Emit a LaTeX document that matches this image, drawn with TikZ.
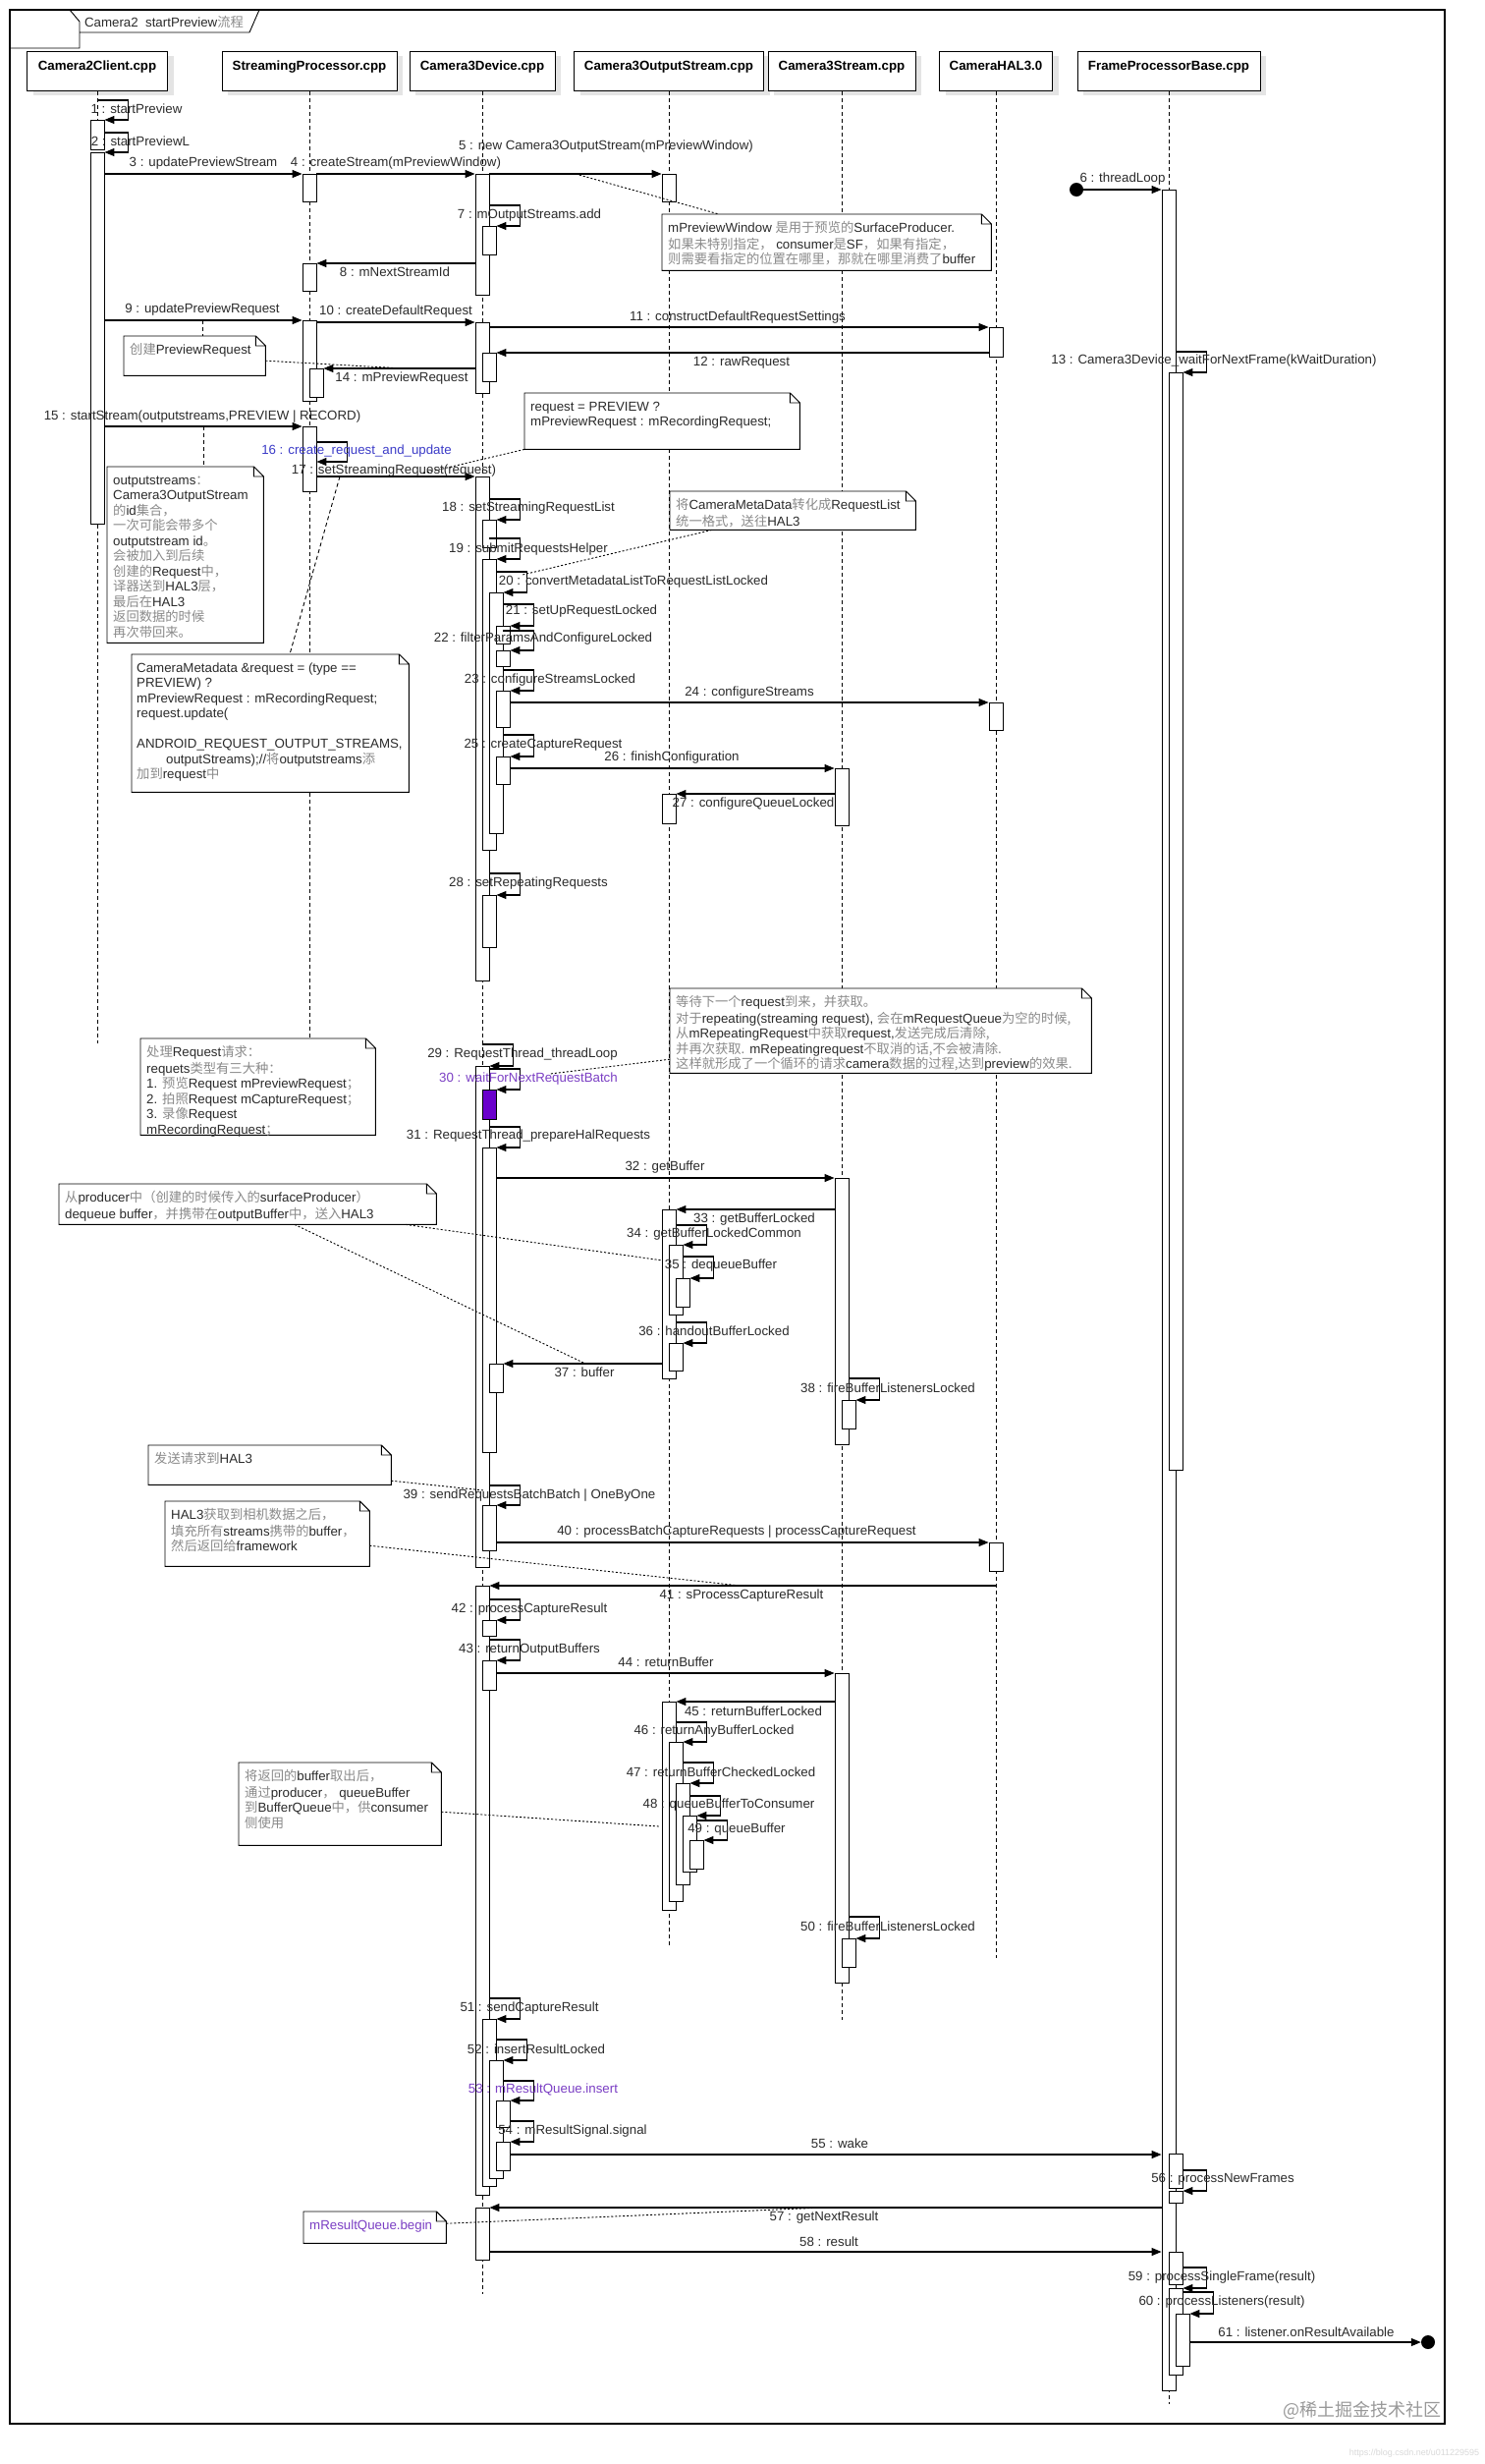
\documentclass[tikz,border=0pt]{standalone}
\usepackage{fontspec}
\setmainfont{Liberation Sans}
\newfontfamily\cjk{Noto Sans CJK SC}
\usetikzlibrary{arrows.meta,shadows}
\definecolor{sdgray}{HTML}{8A8A8A}
\definecolor{sdtext}{HTML}{2B2B2B}
\definecolor{sdblue}{HTML}{3C3CC8}
\definecolor{sdpurple}{HTML}{7B3FC4}
\definecolor{sdbar}{HTML}{6A00CC}
\definecolor{sdshadow}{HTML}{E4E4E4}
\newcommand\zh[1]{{\cjk\color{sdgray}#1}}
\newcommand\actbar[5][]{\node[act,#1,minimum height={#5pt-#4pt}] (#2) at (#3,#4) {};}
\newcommand\dogear[1]{\draw[line width=0.9pt] (#1.south west) -- (#1.north west)
  -- ([xshift=-10pt]#1.north east) -- ([yshift=-10pt]#1.north east) -- (#1.south east) -- cycle
  ([xshift=-10pt]#1.north east) |- ([yshift=-10pt]#1.north east);}

\begin{document}
\begin{tikzpicture}[x=1pt, y=-1pt,
  font=\fontsize{13.3}{15.5}\selectfont,
  head/.style={draw, line width=0.9pt, fill=white, minimum height=40pt, text depth=12pt,
               font=\fontsize{13.3}{15.5}\selectfont\bfseries, anchor=north,
               drop shadow={shadow xshift=6pt, shadow yshift=-5pt, fill=sdshadow, opacity=1}},
  life/.style={line width=0.9pt, dash pattern=on 4pt off 3pt},
  act/.style={draw, line width=0.9pt, fill=white, minimum width=14pt, inner sep=0pt, anchor=north},
  msg/.style={line width=1.1pt, -{Triangle[length=10pt, width=8pt]}},
  lbl/.style={inner sep=0pt, text=sdtext},
  notebox/.style={fill=white, inner sep=0pt, anchor=north west},
  notetxt/.style={inner sep=0pt, anchor=north west, align=left, text=sdtext},
  link/.style={line width=0.9pt, dash pattern=on 2pt off 2pt},
  linkd/.style={line width=0.9pt, dash pattern=on 4pt off 3pt},
  dot/.style={circle, fill, inner sep=0pt, minimum size=14pt}]

\fill[white] (0,0) rectangle (1512,2508);
\useasboundingbox (0,0) rectangle (1512,2508);

% ---- frame ------------------------------------------------------------
\draw[line width=1.1pt] (10,10) rectangle (1471,2467);
\draw[line width=0.9pt] (10,49) -- (81,49) -- (81,22) -- (71,10) (81,33) -- (254,33) -- (264,10);
\node[lbl] (title) at (167,22) {Camera2\ \ startPreview\zh{流程}};

% ---- lifelines --------------------------------------------------------
\node[head, minimum width=143pt] (hC2) at (99,52) {Camera2Client.cpp};
\node[head, minimum width=178pt] (hSP) at (315,52) {StreamingProcessor.cpp};
\node[head, minimum width=148pt] (hC3D) at (491,52) {Camera3Device.cpp};
\node[head, minimum width=193pt] (hOS) at (681,52) {Camera3OutputStream.cpp};
\node[head, minimum width=150pt] (hCS) at (857,52) {Camera3Stream.cpp};
\node[head, minimum width=115pt] (hHAL) at (1014,52) {CameraHAL3.0};
\node[head, minimum width=186pt] (hFP) at (1190,52) {FrameProcessorBase.cpp};
\foreach \h/\e in {hC2/1062, hSP/1057, hC3D/2335, hOS/1982, hCS/2056, hHAL/1993, hFP/2447}
  \draw[life] (\h.south) -- (\h.south |- 0,\e);

% ---- notes ------------------------------------------------------------
\node[notebox, minimum width=335pt, minimum height=57pt] (n5) at (674,218) {};
\dogear{n5}
\node[notetxt] (n5t) at ([shift={(6,7)}]n5.north west)
  {\strut mPreviewWindow \zh{是用于预览的}SurfaceProducer.\\
   \zh{如果未特别指定，} consumer\zh{是}SF\zh{，如果有指定，}\\
   \zh{则需要看指定的位置在哪里，那就在哪里消费了}buffer};

\node[notebox, minimum width=144pt, minimum height=40pt] (nPR) at (126,342) {};
\dogear{nPR}
\node[notetxt] (nPRt) at ([shift={(6,7)}]nPR.north west) {\strut\zh{创建}PreviewRequest};

\node[notebox, minimum width=159pt, minimum height=179pt] (nOS) at (109,475) {};
\dogear{nOS}
\node[notetxt] (nOSt) at ([shift={(6,7)}]nOS.north west)
  {\strut outputstreams\zh{：}\\ Camera3OutputStream\\ \zh{的}id\zh{集合，}\\
   \zh{一次可能会带多个}\\ outputstream id\zh{。}\\ \zh{会被加入到后续}\\
   \zh{创建的}Request\zh{中，}\\ \zh{译器送到}HAL3\zh{层，}\\ \zh{最后在}HAL3\\
   \zh{返回数据的时候}\\ \zh{再次带回来。}};

\node[notebox, minimum width=280pt, minimum height=57pt] (nRQ) at (534,400) {};
\dogear{nRQ}
\node[notetxt] (nRQt) at ([shift={(6,7)}]nRQ.north west)
  {\strut request = PREVIEW ?\\ mPreviewRequest : mRecordingRequest;};

\node[notebox, minimum width=250pt, minimum height=39pt] (nML) at (682,500) {};
\dogear{nML}
\node[notetxt] (nMLt) at ([shift={(6,7)}]nML.north west)
  {\strut\zh{将}CameraMetaData\zh{转化成}RequestList\\ \zh{统一格式，送往}HAL3};

\node[notebox, minimum width=282pt, minimum height=140pt] (nCM) at (134,666) {};
\dogear{nCM}
\node[notetxt] (nCMt) at ([shift={(5,7)}]nCM.north west)
  {\strut CameraMetadata \&request = (type ==\\ PREVIEW) ?\\
   mPreviewRequest : mRecordingRequest;\\ request.update(\\[15.5pt]
   ANDROID\_REQUEST\_OUTPUT\_STREAMS,\\
   \hspace*{30pt}outputStreams);//\zh{将}outputstreams\zh{添}\\ \zh{加到}request\zh{中}};

\node[notebox, minimum width=429pt, minimum height=86pt] (nWT) at (682,1006) {};
\dogear{nWT}
\node[notetxt] (nWTt) at ([shift={(6,7)}]nWT.north west)
  {\strut\zh{等待下一个}request\zh{到来，并获取。}\\
   \zh{对于}repeating(streaming request), \zh{会在}mRequestQueue\zh{为空的时候,}\\
   \zh{从}mRepeatingRequest\zh{中获取}request,\zh{发送完成后清除,}\\
   \zh{并再次获取.} mRepeatingrequest\zh{不取消的话,不会被清除.}\\
   \zh{这样就形成了一个循环的请求}camera\zh{数据的过程,达到}preview\zh{的效果.}};

\node[notebox, minimum width=239pt, minimum height=98pt] (nPQ) at (143,1057) {};
\dogear{nPQ}
\node[notetxt] (nPQt) at ([shift={(6,7)}]nPQ.north west)
  {\strut\zh{处理}Request\zh{请求：}\\ requets\zh{类型有三大种：}\\
   1. \zh{预览}Request mPreviewRequest\zh{；}\\ 2. \zh{拍照}Request mCaptureRequest\zh{；}\\
   3. \zh{录像}Request\\ mRecordingRequest\zh{；}};

\node[notebox, minimum width=384pt, minimum height=41pt] (nDQ) at (60,1205) {};
\dogear{nDQ}
\node[notetxt] (nDQt) at ([shift={(6,7)}]nDQ.north west)
  {\strut\zh{从}producer\zh{中（创建的时候传入的}surfaceProducer\zh{）}\\
   dequeue buffer\zh{，并携带在}outputBuffer\zh{中，送入}HAL3};

\node[notebox, minimum width=247pt, minimum height=40pt] (nSR) at (151,1471) {};
\dogear{nSR}
\node[notetxt] (nSRt) at ([shift={(6,7)}]nSR.north west) {\strut\zh{发送请求到}HAL3};

\node[notebox, minimum width=208pt, minimum height=66pt] (nCB) at (168,1528) {};
\dogear{nCB}
\node[notetxt] (nCBt) at ([shift={(6,7)}]nCB.north west)
  {\strut HAL3\zh{获取到相机数据之后，}\\ \zh{填充所有}streams\zh{携带的}buffer\zh{，}\\
   \zh{然后返回给}framework};

\node[notebox, minimum width=206pt, minimum height=84pt] (nQB) at (243,1794) {};
\dogear{nQB}
\node[notetxt] (nQBt) at ([shift={(6,7)}]nQB.north west)
  {\strut\zh{将返回的}buffer\zh{取出后，}\\ \zh{通过}producer\zh{，} queueBuffer\\
   \zh{到}BufferQueue\zh{中，供}consumer\\ \zh{侧使用}};

\node[notebox, minimum width=145pt, minimum height=32pt] (nRB) at (309,2251) {};
\dogear{nRB}
\node[notetxt, text=sdpurple] (nRBt) at ([shift={(6,7)}]nRB.north west) {\strut mResultQueue.begin};

% ---- activations --------------------------------------------------------
\actbar{a1}{99}{122}{152}
\actbar{a2}{99}{155}{533}
\actbar{a3}{315}{177}{205}
\actbar{a8}{315}{268}{296}
\actbar{a9}{315}{326}{408}
\actbar{a14}{322}{375}{404}
\actbar{a15}{315}{434}{500}
\actbar{a4}{491}{177}{300}
\actbar{a7}{498}{230}{259}
\actbar{a10}{491}{328}{400}
\actbar{a12}{498}{359}{388}
\actbar{a17}{491}{485}{998}
\actbar{a18}{498}{529}{557}
\actbar{a19}{498}{569}{865}
\actbar{a20}{505}{603}{848}
\actbar{a21}{512}{637}{655}
\actbar{a22}{512}{662}{678}
\actbar{a23}{512}{703}{740}
\actbar{a25}{512}{770}{798}
\actbar{a28}{498}{911}{964}
\actbar{a29}{491}{1085}{1595}
\actbar[fill=sdbar]{a30}{498}{1109}{1139}
\actbar{a31}{498}{1168}{1478}
\actbar{a37}{505}{1388}{1417}
\actbar{a39}{498}{1532}{1578}
\actbar{a41}{491}{1614}{2234}
\actbar{a42}{498}{1649}{1665}
\actbar{a43}{498}{1690}{1720}
\actbar{a51}{498}{2055}{2225}
\actbar{a52}{505}{2097}{2217}
\actbar{a53}{512}{2138}{2165}
\actbar{a54}{512}{2180}{2209}
\actbar{a57}{491}{2247}{2300}
\actbar{a5}{681}{177}{205}
\actbar{a27}{681}{808}{838}
\actbar{a33}{681}{1231}{1403}
\actbar{a34}{688}{1267}{1338}
\actbar{a35}{695}{1301}{1330}
\actbar{a36}{688}{1367}{1395}
\actbar{a45}{681}{1732}{1944}
\actbar{a46}{688}{1773}{1935}
\actbar{a47}{695}{1815}{1918}
\actbar{a48}{702}{1848}{1905}
\actbar{a49}{709}{1873}{1902}
\actbar{a26}{857}{782}{840}
\actbar{a32}{857}{1199}{1470}
\actbar{a38}{864}{1425}{1454}
\actbar{a44}{857}{1703}{2018}
\actbar{a50}{864}{1973}{2002}
\actbar{a11}{1014}{333}{363}
\actbar{a24}{1014}{715}{743}
\actbar{a40}{1014}{1570}{1599}
\actbar{a6}{1190}{193}{2433}
\actbar{a13}{1197}{379}{1496}
\actbar{a55}{1197}{2192}{2227}
\actbar{a56}{1197}{2230}{2242}
\actbar{a58}{1197}{2292}{2325}
\actbar{a59}{1197}{2329}{2417}
\actbar{a60}{1204}{2355}{2408}

% ---- messages -----------------------------------------------------------
\draw[msg] (hC2.south |- 0,102) -| ([xshift=24pt]a1.north east) -- (a1.north east);
\node[lbl] (l1) at (139,111) {1 : startPreview};
\draw[msg] (a1.east |- 0,135) -| ([xshift=24pt]a2.north east) -- (a2.north east);
\node[lbl] (l2) at (143,144) {2 : startPreviewL};
\draw[msg] (a2.east |- 0,177) -- (a3.north west);
\node[lbl] (l3) at (207,166) {3 : updatePreviewStream};
\draw[msg] (a3.north east) -- (a4.north west);
\node[lbl] (l4) at (403,166) {4 : createStream(mPreviewWindow)};
\draw[msg] (a4.north east) -- (a5.north west);
\node[lbl] (l5) at (617,149) {5 : new Camera3OutputStream(mPreviewWindow)};
\node[dot] (s6) at (1096,193) {};
\draw[msg] (s6) -- (a6.north west);
\node[lbl] (l6) at (1143,182) {6 : threadLoop};
\draw[msg] (a4.east |- 0,209) -| ([xshift=24pt]a7.north east) -- (a7.north east);
\node[lbl] (l7) at (539,219) {7 : mOutputStreams.add};
\draw[msg] (a4.west |- 0,268) -- (a8.north east);
\node[lbl] (l8) at (402,277) {8 : mNextStreamId};
\draw[msg] (a2.east |- 0,326) -- (a9.north west);
\node[lbl] (l9) at (206,315) {9 : updatePreviewRequest};
\draw[msg] (a9.east |- 0,328) -- (a10.north west);
\node[lbl] (l10) at (403,317) {10 : createDefaultRequest};
\draw[msg] (a10.east |- 0,333) -- (a11.north west);
\node[lbl] (l11) at (751,323) {11 : constructDefaultRequestSettings};
\draw[msg] (a11.west |- 0,359) -- (a12.north east);
\node[lbl] (l12) at (755,369) {12 : rawRequest};
\draw[msg] (a6.east |- 0,358) -| ([xshift=24pt]a13.north east) -- (a13.north east);
\node[lbl] (l13) at (1236,367) {13 : Camera3Device\_waitForNextFrame(kWaitDuration)};
\draw[msg] (a10.west |- 0,375) -- (a14.north east);
\node[lbl] (l14) at (409,385) {14 : mPreviewRequest};
\draw[msg] (a2.east |- 0,434) -- (a15.north west);
\node[lbl] (l15) at (206,424) {15 : startStream(outputstreams,PREVIEW | RECORD)};
\coordinate (r16) at (a15.east |- 0,470);
\draw[msg] (a15.east |- 0,450) -| ([xshift=31pt]r16) -- (r16);
\node[lbl, text=sdblue] (l16) at (363,459) {16 : create\_request\_and\_update};
\draw[msg] (a15.east |- 0,485) -- (a17.north west);
\node[lbl] (l17) at (401,479) {17 : setStreamingRequest(request)};
\draw[msg] (a17.east |- 0,508) -| ([xshift=24pt]a18.north east) -- (a18.north east);
\node[lbl] (l18) at (538,517) {18 : setStreamingRequestList};
\draw[msg] (a17.east |- 0,548) -| ([xshift=24pt]a19.north east) -- (a19.north east);
\node[lbl] (l19) at (538,559) {19 : submitRequestsHelper};
\draw[msg] (a19.east |- 0,582) -| ([xshift=24pt]a20.north east) -- (a20.north east);
\node[lbl] (l20) at (645,592) {20 : convertMetadataListToRequestListLocked};
\draw[msg] (a20.east |- 0,615) -| ([xshift=24pt]a21.north east) -- (a21.north east);
\node[lbl] (l21) at (592,622) {21 : setUpRequestLocked};
\draw[msg] (a20.east |- 0,642) -| ([xshift=24pt]a22.north east) -- (a22.north east);
\node[lbl] (l22) at (553,650) {22 : filterParamsAndConfigureLocked};
\draw[msg] (a20.east |- 0,682) -| ([xshift=24pt]a23.north east) -- (a23.north east);
\node[lbl] (l23) at (560,692) {23 : configureStreamsLocked};
\draw[msg] (a23.east |- 0,715) -- (a24.north west);
\node[lbl] (l24) at (763,705) {24 : configureStreams};
\draw[msg] (a20.east |- 0,748) -| ([xshift=24pt]a25.north east) -- (a25.north east);
\node[lbl] (l25) at (553,758) {25 : createCaptureRequest};
\draw[msg] (a25.east |- 0,782) -- (a26.north west);
\node[lbl] (l26) at (684,771) {26 : finishConfiguration};
\draw[msg] (a26.west |- 0,808) -- (a27.north east);
\node[lbl] (l27) at (767,818) {27 : configureQueueLocked};
\draw[msg] (a17.east |- 0,889) -| ([xshift=24pt]a28.north east) -- (a28.north east);
\node[lbl] (l28) at (538,899) {28 : setRepeatingRequests};
\draw[msg] (hC3D.south |- 0,1063) -| ([xshift=24pt]a29.north east) -- (a29.north east);
\node[lbl] (l29) at (532,1073) {29 : RequestThread\_threadLoop};
\draw[msg] (a29.east |- 0,1088) -| ([xshift=24pt]a30.north east) -- (a30.north east);
\node[lbl, text=sdpurple] (l30) at (538,1098) {30 : waitForNextRequestBatch};
\draw[msg] (a29.east |- 0,1147) -| ([xshift=24pt]a31.north east) -- (a31.north east);
\node[lbl] (l31) at (538,1156) {31 : RequestThread\_prepareHalRequests};
\draw[msg] (a31.east |- 0,1199) -- (a32.north west);
\node[lbl] (l32) at (677,1188) {32 : getBuffer};
\draw[msg] (a32.west |- 0,1231) -- (a33.north east);
\node[lbl] (l33) at (768,1241) {33 : getBufferLocked};
\draw[msg] (a33.east |- 0,1247) -| ([xshift=24pt]a34.north east) -- (a34.north east);
\node[lbl] (l34) at (727,1256) {34 : getBufferLockedCommon};
\draw[msg] (a34.east |- 0,1279) -| ([xshift=24pt]a35.north east) -- (a35.north east);
\node[lbl] (l35) at (734,1288) {35 : dequeueBuffer};
\draw[msg] (a33.east |- 0,1346) -| ([xshift=24pt]a36.north east) -- (a36.north east);
\node[lbl] (l36) at (727,1355) {36 : handoutBufferLocked};
\draw[msg] (a33.west |- 0,1388) -- (a37.north east);
\node[lbl] (l37) at (595,1397) {37 : buffer};
\draw[msg] (a32.east |- 0,1403) -| ([xshift=24pt]a38.north east) -- (a38.north east);
\node[lbl] (l38) at (904,1413) {38 : fireBufferListenersLocked};
\draw[msg] (a29.east |- 0,1512) -| ([xshift=24pt]a39.north east) -- (a39.north east);
\node[lbl] (l39) at (539,1522) {39 : sendRequestsBatchBatch | OneByOne};
\draw[msg] (a39.east |- 0,1570) -- (a40.north west);
\node[lbl] (l40) at (750,1559) {40 : processBatchCaptureRequests | processCaptureRequest};
\draw[msg] (hHAL.south |- 0,1614) -- (a41.north east);
\node[lbl] (l41) at (755,1624) {41 : sProcessCaptureResult};
\draw[msg] (a41.east |- 0,1628) -| ([xshift=24pt]a42.north east) -- (a42.north east);
\node[lbl] (l42) at (539,1638) {42 : processCaptureResult};
\draw[msg] (a41.east |- 0,1669) -| ([xshift=24pt]a43.north east) -- (a43.north east);
\node[lbl] (l43) at (539,1679) {43 : returnOutputBuffers};
\draw[msg] (a43.east |- 0,1703) -- (a44.north west);
\node[lbl] (l44) at (678,1692) {44 : returnBuffer};
\draw[msg] (a44.west |- 0,1732) -- (a45.north east);
\node[lbl] (l45) at (767,1742) {45 : returnBufferLocked};
\draw[msg] (a45.east |- 0,1753) -| ([xshift=24pt]a46.north east) -- (a46.north east);
\node[lbl] (l46) at (727,1762) {46 : returnAnyBufferLocked};
\draw[msg] (a46.east |- 0,1794) -| ([xshift=24pt]a47.north east) -- (a47.north east);
\node[lbl] (l47) at (734,1804) {47 : returnBufferCheckedLocked};
\draw[msg] (a47.east |- 0,1828) -| ([xshift=24pt]a48.north east) -- (a48.north east);
\node[lbl] (l48) at (742,1837) {48 : queueBufferToConsumer};
\draw[msg] (a48.east |- 0,1853) -| ([xshift=24pt]a49.north east) -- (a49.north east);
\node[lbl] (l49) at (750,1862) {49 : queueBuffer};
\draw[msg] (a44.east |- 0,1951) -| ([xshift=24pt]a50.north east) -- (a50.north east);
\node[lbl] (l50) at (904,1961) {50 : fireBufferListenersLocked};
\draw[msg] (a41.east |- 0,2034) -| ([xshift=24pt]a51.north east) -- (a51.north east);
\node[lbl] (l51) at (539,2044) {51 : sendCaptureResult};
\draw[msg] (a51.east |- 0,2076) -| ([xshift=24pt]a52.north east) -- (a52.north east);
\node[lbl] (l52) at (546,2086) {52 : insertResultLocked};
\draw[msg] (a52.east |- 0,2118) -| ([xshift=24pt]a53.north east) -- (a53.north east);
\node[lbl, text=sdpurple] (l53) at (553,2127) {53 : mResultQueue.insert};
\draw[msg] (a53.east |- 0,2159) -| ([xshift=24pt]a54.north east) -- (a54.north east);
\node[lbl] (l54) at (583,2169) {54 : mResultSignal.signal};
\draw[msg] (a54.east |- 0,2193) -- (a6.west |- 0,2193);
\node[lbl] (l55) at (855,2182) {55 : wake};
\draw[msg] (a55.east |- 0,2209) -| ([xshift=24pt]a56.north east) -- (a56.north east);
\node[lbl] (l56) at (1245,2218) {56 : processNewFrames};
\draw[msg] (a6.west |- 0,2247) -- (a57.north east);
\node[lbl] (l57) at (839,2257) {57 : getNextResult};
\draw[msg] (a57.east |- 0,2292) -- (a6.west |- 0,2292);
\node[lbl] (l58) at (844,2282) {58 : result};
\draw[msg] (a58.east |- 0,2308) -| ([xshift=24pt]a59.north east) -- (a59.north east);
\node[lbl] (l59) at (1244,2318) {59 : processSingleFrame(result)};
\draw[msg] (a59.east |- 0,2333) -| ([xshift=24pt]a60.north east) -- (a60.north east);
\node[lbl] (l60) at (1244,2343) {60 : processListeners(result)};
\node[dot] (e61) at (1454,2384) {};
\draw[msg] (a60.east |- 0,2384) -- (e61);
\node[lbl] (l61) at (1330,2374) {61 : listener.onResultAvailable};

% ---- note links ---------------------------------------------------------
\coordinate (k5) at (586,177);
\coordinate (k9) at (206,326);
\coordinate (k14) at (411,375);
\coordinate (k15) at (207,434);
\coordinate (k16) at (430,482);
\coordinate (k17) at (346,485);
\coordinate (k20) at (532,585);
\coordinate (k30) at (560,1093);
\coordinate (k35) at (675,1283);
\coordinate (k37) at (596,1388);
\coordinate (k39) at (493,1517);
\coordinate (k41) at (754,1614);
\coordinate (k49) at (671,1859);
\coordinate (k57) at (839,2247);
\draw[link] (k5) -- ([xshift=58pt]n5.north west);
\draw[linkd] (k9) -- (k9 |- nPR.north);
\draw[link] ([yshift=-5pt]nPR.east) -- (k14);
\draw[linkd] (k15) -- (k15 |- nOS.north);
\draw[link] (nRQ.south west) -- (k16);
\draw[linkd] (k17) -- ([xshift=161pt]nCM.north west);
\draw[link] ([xshift=43pt]nML.south west) -- (k20);
\draw[link] ([yshift=-29pt]nWT.west) -- (k30);
\draw[link] ([xshift=353pt]nDQ.south west) -- (k35);
\draw[link] ([xshift=240pt]nDQ.south west) -- (k37);
\draw[link] ([yshift=-16pt]nSR.east) -- (k39);
\draw[link] ([yshift=-12pt]nCB.east) -- (k41);
\draw[link] ([yshift=-8pt]nQB.east) -- (k49);
\draw[link] ([yshift=4pt]nRB.east) -- (k57);

% ---- marks --------------------------------------------------------------
\node[inner sep=0pt, text=black!40, font=\fontsize{18}{20}\selectfont\cjk] (wm) at (1387,2453) {@稀土掘金技术社区};
\node[inner sep=0pt, text=black!15, font=\fontsize{9}{10}\selectfont] (url) at (1440,2497) {https://blog.csdn.net/u011229595};
\end{tikzpicture}
\end{document}
